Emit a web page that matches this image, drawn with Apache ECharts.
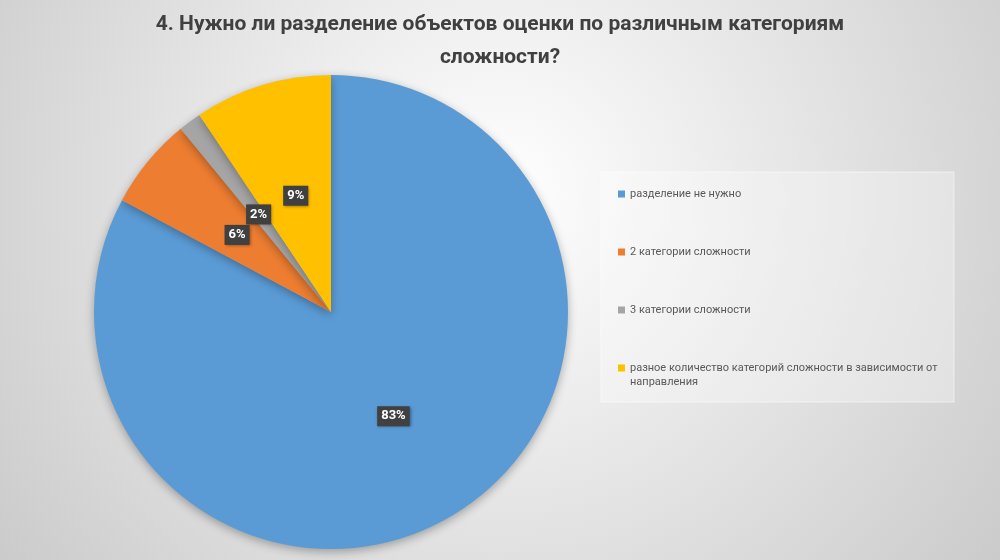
<!DOCTYPE html>
<html>
<head>
<meta charset="utf-8">
<script src="https://cdn.jsdelivr.net/npm/echarts@6/dist/echarts.min.js"></script>
<style>
  html, body { margin: 0; padding: 0; }
  #chart { width: 1000px; height: 560px; }
</style>
</head>
<body>
<div id="chart"></div>
<script>
// данные опроса
var chartTitle = '4. Нужно ли разделение объектов оценки по различным категориям\nсложности?';
var categories = [
  'разделение не нужно',
  '2 категории сложности',
  '3 категории сложности',
  'разное количество категорий сложности в зависимости от направления'
];
var answers = [53, 4, 1, 6];
var colors = ['#5b9bd5', '#ed7d31', '#a5a5a5', '#ffc000'];

var myChart = echarts.init(document.getElementById('chart'));

var seriesData = [];
for (var i = 0; i < categories.length; i++) {
  seriesData.push({ name: categories[i], value: answers[i] });
}

// перенос длинной подписи легенды по словам
// (пустая первая строка, чтобы маркер стоял напротив первой строки текста)
function wrapName(name) {
  var words = name.split(' ');
  var lines = [], cur = '';
  words.forEach(function (w) {
    if (cur && (cur + ' ' + w).length > 56) {
      lines.push(cur);
      cur = w;
    } else {
      cur = cur ? cur + ' ' + w : w;
    }
  });
  lines.push(cur);
  return ' \n' + lines.join('\n');
}

var fontFam = 'Roboto, "Noto Sans", sans-serif';

var option = {
  backgroundColor: {
    type: 'radial', x: 0.5, y: 0.35, r: 1.1,
    colorStops: [
      { offset: 0, color: '#ffffff' },
      { offset: 1, color: '#cbcbcb' }
    ]
  },
  color: colors,
  title: {
    text: chartTitle,
    left: 'center',
    top: 3,
    textStyle: {
      fontFamily: fontFam,
      fontSize: 21,
      fontWeight: 'bold',
      color: '#404040',
      lineHeight: 33
    }
  },
  graphic: [{
    type: 'rect',
    z: -1,
    shape: { x: 601, y: 172, width: 353, height: 230 },
    style: { fill: 'rgba(255,255,255,0.3)', stroke: 'rgba(255,255,255,0.55)', lineWidth: 1 }
  }],
  legend: [{
    orient: 'vertical',
    left: 618,
    top: 187,
    padding: 0,
    itemWidth: 7,
    itemHeight: 7,
    itemGap: 44,
    icon: 'rect',
    selectedMode: false,
    data: categories.slice(0, 3),
    textStyle: { fontFamily: fontFam, fontSize: 11, color: '#595959', lineHeight: 14 }
  }, {
    orient: 'vertical',
    left: 618,
    top: 347,
    padding: 0,
    itemWidth: 7,
    itemHeight: 7,
    icon: 'rect',
    selectedMode: false,
    formatter: wrapName,
    data: [categories[3]],
    textStyle: { fontFamily: fontFam, fontSize: 11, color: '#595959', lineHeight: 14 }
  }],
  series: [{
    type: 'pie',
    center: [331, 312],
    radius: [0, 237],
    startAngle: 90,
    clockwise: true,
    animation: false,
    avoidLabelOverlap: false,
    itemStyle: {
      shadowBlur: 10,
      shadowColor: 'rgba(0,0,0,0.3)',
      shadowOffsetY: 3
    },
    emphasis: { disabled: true },
    label: {
      show: true,
      position: 'inside',
      formatter: function (p) { return Math.round(p.percent) + '%'; },
      fontFamily: fontFam,
      fontSize: 13,
      fontWeight: 'bold',
      color: '#ffffff',
      backgroundColor: '#404040',
      padding: [4, 4, 3, 4],
      shadowBlur: 3,
      shadowColor: 'rgba(0,0,0,0.4)',
      shadowOffsetX: 1,
      shadowOffsetY: 1
    },
    labelLine: { show: false },
    data: seriesData
  }]
};

myChart.setOption(option);
</script>
</body>
</html>
